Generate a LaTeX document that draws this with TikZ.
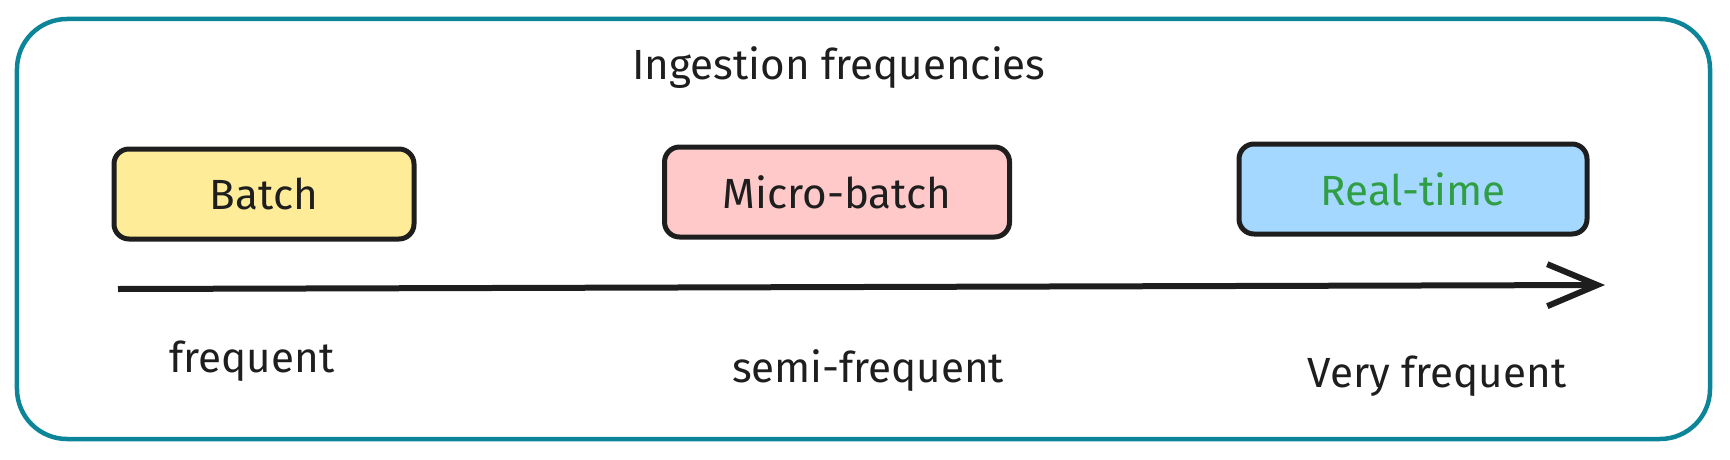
\documentclass[tikz,border=0pt]{standalone}
\usepackage{fontspec}
\setmainfont{Fira Sans}
\usepackage{tikz}
\usetikzlibrary{arrows.meta,positioning,calc}

\definecolor{frameteal}{HTML}{0C8599}
\definecolor{inkdark}{HTML}{1E1E1E}
\definecolor{batchyellow}{HTML}{FFEC99}
\definecolor{micropink}{HTML}{FFC9C9}
\definecolor{realblue}{HTML}{A5D8FF}
\definecolor{realgreen}{HTML}{2F9E44}

\begin{document}
\begin{tikzpicture}[>={Straight Barb[length=0.5cm, width=0.42cm]}, scale=1.0,
	every node/.style={scale=1.0, font=\fontsize{12}{14.5}\selectfont, text=inkdark},
	outer/.style={draw=frameteal, line width=0.045cm, rounded corners=0.5cm, minimum width=16.93cm, minimum height=4.2cm},
	stage/.style={draw=inkdark, line width=0.05cm, rounded corners=0.15cm, minimum height=0.9cm}]

	\useasboundingbox (0.0, 0.0) rectangle (17.30, -4.59);

	% frame and title
	\node[outer, shift = {(8.635, -2.29)}] (frame) {};

	\node[shift = {(8.39, -0.68)}] (title) {Ingestion frequencies};

	% the three ingestion modes
	\node[stage, fill = batchyellow, minimum width = 3.0cm, shift = {(2.64, -1.94)}] (batch) {Batch};

	\node[stage, fill = micropink, minimum width = 3.45cm, shift = {(8.37, -1.92)}] (micro) {Micro-batch};

	\node[stage, fill = realblue, minimum width = 3.48cm, shift = {(14.13, -1.89)}, text = realgreen] (realtime) {Real-time};

	% frequency axis
	\coordinate (ax_start) at (1.18, -2.89);
	\coordinate (ax_end) at (16.05, -2.85);

	\draw[->, line width = 0.06cm, inkdark] (ax_start) -- (ax_end);

	\node[shift = {(2.52, -3.61)}] (lbl_freq) {frequent};

	\node[shift = {(8.68, -3.71)}] (lbl_semi) {semi-frequent};

	\node[shift = {(14.37, -3.76)}] (lbl_very) {Very frequent};
\end{tikzpicture}
\end{document}
